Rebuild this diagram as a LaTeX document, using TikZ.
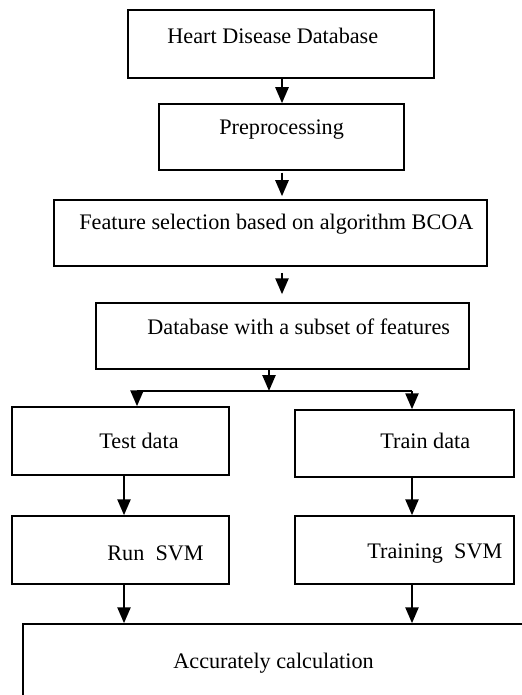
\documentclass[tikz,border=0pt]{standalone}
\usepackage{fontspec}
\setmainfont{Liberation Serif}
\usetikzlibrary{arrows.meta}
\tikzset{
  box/.style={draw,line width=0.75pt,inner sep=0pt},
  lbl/.style={anchor=base west,inner sep=0pt,font=\fontsize{11.1}{13}\selectfont},
  flow/.style={line width=1.25pt,-{Triangle[length=8pt,width=6.5pt]}}
}

\begin{document}
\begin{tikzpicture}[x=0.5pt,y=-0.5pt,line join=miter]
  \useasboundingbox (0,0) rectangle (522,695);
  \clip (0,0) rectangle (522,695);
  % boxes: name/centre x/centre y/width/height (px)
  \foreach \n/\x/\y/\w/\h in {db/281/44/306/68, pre/281.5/137/245/66, fs/270.5/233/433/66,
      sub/282.5/336/373/66, test/120.5/441/217/68, train/404.5/443.5/219/67,
      run/120.5/550/217/68, trn/404.5/550/219/68, acc/291.5/682/537/116}
    \node[box,minimum width=\w*0.5pt,minimum height=\h*0.5pt] (\n) at (\x,\y) {};
  % texts sit high and off centre, as in the original
  \node[lbl] (db-t) at (167,44) {Heart Disease Database};
  \node[lbl] (pre-t) at (219,135) {Preprocessing};
  \node[lbl] (fs-t) at (79,229) {Feature selection based on algorithm BCOA};
  \node[lbl] (sub-t) at (147,334) {Database with a subset of features};
  \node[lbl] (test-t) at (99,448) {Test data};
  \node[lbl] (train-t) at (380,448) {Train data};
  \node[lbl] (run-t) at (107,560) {Run~~SVM};
  \node[lbl] (trn-t) at (367,558) {Training~~SVM};
  \node[lbl] (acc-t) at (173,668) {Accurately calculation};
  % arrows
  \coordinate (spine) at (282,0);
  \coordinate (split) at (269,391); \coordinate (sl) at (137,391); \coordinate (sr) at (412,391);
  \coordinate (cl) at (124,0); \coordinate (cr) at (412,0);
  \draw[flow] (db.south -| spine) -- (pre.north -| spine);
  \draw[flow,shorten <=1pt,shorten >=1.5pt] (pre.south -| spine) -- (fs.north -| spine);
  \draw[flow,shorten <=3pt,shorten >=4pt] (fs.south -| spine) -- (sub.north -| spine);
  \draw[flow] (sub.south -| split) -- (split);
  \draw[line width=1pt] (sl) -- (sr);
  \draw[flow] (sl) -- (sl |- test.north);
  \draw[flow] (sr) -- (sr |- train.north);
  \draw[flow] (test.south -| cl) -- (run.north -| cl);
  \draw[flow] (train.south -| cr) -- (trn.north -| cr);
  \draw[flow] (run.south -| cl) -- (acc.north -| cl);
  \draw[flow] (trn.south -| cr) -- (acc.north -| cr);
\end{tikzpicture}
\end{document}
